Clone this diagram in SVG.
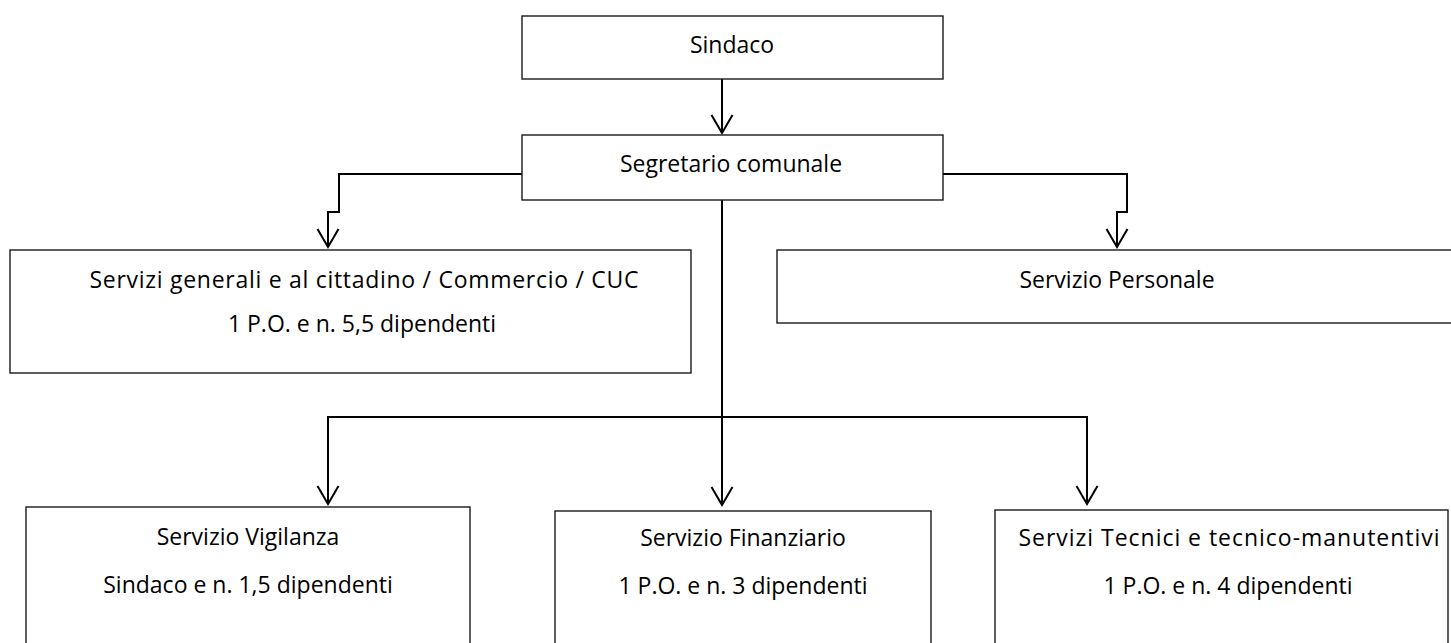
<svg xmlns="http://www.w3.org/2000/svg" width="1451" height="643" viewBox="0 0 1451 643">
  <style>
    .box { fill: #ffffff; stroke: #1a1a1a; stroke-width: 1.4; }
    .lbl { font-family: "Open Sans", "Noto Sans", "Liberation Sans", sans-serif; font-size: 23px; fill: #000000; text-anchor: middle; }
    .conn { fill: none; stroke: #000000; stroke-width: 2; }
  </style>
  <defs>
    <marker id="arrow" markerUnits="userSpaceOnUse" viewBox="-22 -13 26 26" markerWidth="26" markerHeight="26" refX="0" refY="0" orient="auto" overflow="visible">
      <path d="M-18,-10.5 L0,0 L-18,10.5" fill="none" stroke="#000000" stroke-width="2"/>
    </marker>
  </defs>
  <rect width="1451" height="643" fill="#ffffff"/>

  <g id="connectors">
    <path class="conn" d="M722,79 V133" marker-end="url(#arrow)"/>
    <path class="conn" d="M522,174 H339 V212 H328 V247" marker-end="url(#arrow)"/>
    <path class="conn" d="M943,174 H1127 V212 H1117 V247" marker-end="url(#arrow)"/>
    <path class="conn" d="M722,200 V505" marker-end="url(#arrow)"/>
    <path class="conn" d="M722,417 H328 V504" marker-end="url(#arrow)"/>
    <path class="conn" d="M722,417 H1087 V504" marker-end="url(#arrow)"/>
  </g>

  <g id="sindaco">
    <rect class="box" x="522" y="16" width="421" height="63"/>
    <text class="lbl" x="732" y="53">Sindaco</text>
  </g>

  <g id="segretario">
    <rect class="box" x="522" y="135" width="421" height="65"/>
    <text class="lbl" x="731" y="172">Segretario comunale</text>
  </g>

  <g id="servizi-generali">
    <rect class="box" x="10" y="250" width="681" height="123"/>
    <text class="lbl" x="364" y="288" textLength="549" lengthAdjust="spacing">Servizi generali e al cittadino / Commercio / CUC</text>
    <text class="lbl" x="362" y="332">1 P.O. e n. 5,5 dipendenti</text>
  </g>

  <g id="servizio-personale">
    <rect class="box" x="777" y="250" width="690" height="73"/>
    <text class="lbl" x="1117" y="288">Servizio Personale</text>
  </g>

  <g id="servizio-vigilanza">
    <rect class="box" x="26" y="507" width="444" height="150"/>
    <text class="lbl" x="248" y="545">Servizio Vigilanza</text>
    <text class="lbl" x="248" y="593">Sindaco e n. 1,5 dipendenti</text>
  </g>

  <g id="servizio-finanziario">
    <rect class="box" x="555" y="511" width="376" height="150"/>
    <text class="lbl" x="743" y="546">Servizio Finanziario</text>
    <text class="lbl" x="743" y="594">1 P.O. e n. 3 dipendenti</text>
  </g>

  <g id="servizi-tecnici">
    <rect class="box" x="995" y="510" width="453" height="150"/>
    <text class="lbl" x="1229" y="546" textLength="421" lengthAdjust="spacing">Servizi Tecnici e tecnico-manutentivi</text>
    <text class="lbl" x="1228" y="594">1 P.O. e n. 4 dipendenti</text>
  </g>
</svg>
